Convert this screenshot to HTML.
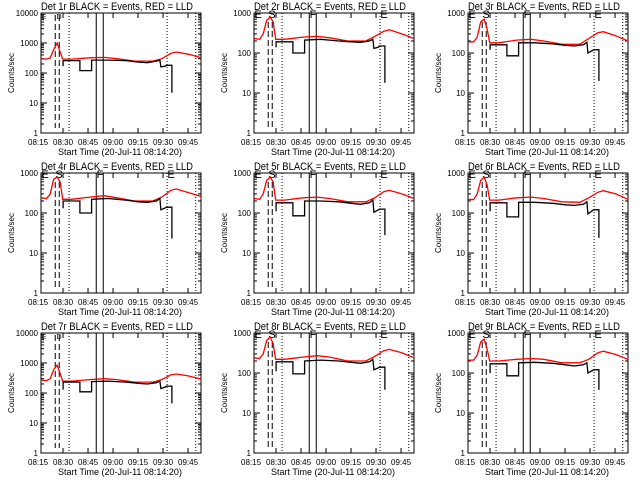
<!DOCTYPE html>
<html><head><meta charset="utf-8"><style>
html,body{margin:0;padding:0;background:#fff;}
svg{display:block;font-family:"Liberation Sans",sans-serif;}
</style></head><body>
<svg id="chart" width="640" height="480" viewBox="0 0 640 480"></svg>
<script>
// time in minutes after 08:14:20
const tickLabels = ["08:15","08:30","08:45","09:00","09:15","09:30","09:45"];
const tickMinutes = [0.67,15.67,30.67,45.67,60.67,75.67,90.67];
const titles = ["Det 1r","Det 2r","Det 3r","Det 4r","Det 5r","Det 6r","Det 7r","Det 8r","Det 9r"];
const yDecades = [4,3,3,3,3,3,4,3,3];
const dottedMin = [19.3,78.1,95.3];
const solidMin = [35.6,39.8];
const dashedMin = [11.0,13.4];
const redT = [2.6,5.8,8.0,10.1,12.1,13.9,15.5,20.9,31.7,40.4,47.9,58.7,69.5,74.9,80.3,83.6,91.1,98.7];
const red1 = [300,290,320,600,1000,500,290,290,320,330,300,250,250,300,450,500,420,320];
const red2 = [230,220,300,650,800,600,220,220,250,260,240,200,200,260,350,380,300,230];
const red3 = [190,190,250,600,700,400,180,180,210,220,200,165,165,230,320,340,270,200];
const red4 = [240,230,300,700,800,600,220,220,250,270,240,200,200,250,370,400,320,260];
const red5 = [230,220,300,650,800,600,210,210,240,250,230,190,190,240,340,370,300,230];
const red6 = [220,215,300,650,800,500,210,210,240,250,230,190,185,240,330,360,300,220];
const red7 = [270,260,300,600,850,450,250,250,280,300,280,230,230,280,400,430,370,290];
const red8 = [240,230,300,650,800,550,220,220,250,270,250,200,200,260,360,390,320,240];
const red9 = [210,210,280,600,700,400,200,200,220,230,220,180,180,220,320,350,290,220];
const blkT = [15.7,15.7,25.8,25.8,32.8,32.8,42.5,53.3,60.9,66.3,71.7,73.8,74.4,77.1,77.6,81.0,81.0];
const blk1 = [170,260,260,120,120,270,270,260,230,220,250,270,160,170,180,180,22];
const blk2 = [140,190,190,100,100,210,220,200,190,185,200,220,130,140,150,150,18];
const blk3 = [120,160,160,85,85,180,180,170,155,150,160,185,100,115,120,120,20];
const blk4 = [130,200,200,100,100,220,230,210,190,185,200,230,120,135,140,140,23];
const blk5 = [110,180,180,85,85,200,200,190,175,165,180,210,105,120,125,125,28];
const blk6 = [110,180,180,80,80,185,185,175,160,155,165,190,95,115,120,120,24];
const blk7 = [130,230,230,110,110,240,250,230,210,200,220,250,140,160,170,170,45];
const blk8 = [110,190,190,95,95,200,210,200,185,175,190,220,120,135,140,140,38];
const blk9 = [100,170,170,85,85,180,185,175,160,150,160,180,100,115,120,120,38];
const redSeries = [red1,red2,red3,red4,red5,red6,red7,red8,red9];
const blkSeries = [blk1,blk2,blk3,blk4,blk5,blk6,blk7,blk8,blk9];

const svg = document.getElementById('chart');
const NS = "http://www.w3.org/2000/svg";
function mk(tag, attrs, parent){const e=document.createElementNS(NS,tag);for(const k in attrs)e.setAttribute(k,attrs[k]);parent.appendChild(e);return e;}
const L=41,R=201,T=13,B=133;
function xs(m){return 36.9+m*1.667;}
const colX=[0,213,427], rowY=[0,160,320];
for(let p=0;p<9;p++){
  const g=mk('g',{transform:`translate(${colX[p%3]},${rowY[Math.floor(p/3)]})`},svg);
  
  
  const dec=yDecades[p];
  const ys=v=>B-Math.log10(v)/dec*(B-T);
  const cx=v=>Math.max(L,Math.min(R,xs(v)));
  const t=mk('text',{x:117,y:10,'font-size':11,'text-anchor':'middle',textLength:152,lengthAdjust:'spacingAndGlyphs'},g);
  t.textContent=titles[p]+" BLACK = Events, RED = LLD";
  
  
  const fr=mk('rect',{x:L,y:T,width:R-L,height:B-T,fill:'none',stroke:'#000','stroke-width':1},g);
  
  
  for(let d=0;d<=dec;d++){
    const y=ys(Math.pow(10,d));
    mk('line',{x1:L,x2:L+6,y1:y,y2:y,stroke:'#000'},g);
    mk('line',{x1:R-6,x2:R,y1:y,y2:y,stroke:'#000'},g);
    const lb=mk('text',{x:L-3,y:y+3,'font-size':8,'text-anchor':'end'},g);
    lb.textContent=String(Math.pow(10,d));
    
    
    if(d<dec){for(let k=2;k<10;k++){const yy=ys(k*Math.pow(10,d));
      mk('line',{x1:L,x2:L+3,y1:yy,y2:yy,stroke:'#000'},g);
      mk('line',{x1:R-3,x2:R,y1:yy,y2:yy,stroke:'#000'},g);}}
  }
  const yl=mk('text',{x:0,y:0,'font-size':8,'text-anchor':'middle',transform:'translate(14,73) rotate(-90)'},g);
  yl.textContent="Counts/sec";
  
  
  tickLabels.forEach((s,i)=>{
    const x=xs(tickMinutes[i]);
    if(x>=L&&x<=R){mk('line',{x1:x,x2:x,y1:B,y2:B-5,stroke:'#000'},g);mk('line',{x1:x,x2:x,y1:T,y2:T+5,stroke:'#000'},g);}
    const lb=mk('text',{x:x,y:145,'font-size':8,'text-anchor':'middle'},g);
    lb.textContent=s;
    
    
  });
  const xl=mk('text',{x:120,y:155,'font-size':9,'text-anchor':'middle'},g);
  xl.textContent="Start Time (20-Jul-11 08:14:20)";
  
  
  dottedMin.forEach(m=>{const l=mk('line',{x1:xs(m),x2:xs(m),y1:T,y2:B,stroke:'#000','stroke-dasharray':'1,2'},g);
    });
  solidMin.forEach(m=>{const l=mk('line',{x1:xs(m),x2:xs(m),y1:T,y2:B,stroke:'#000'},g);
    });
  dashedMin.forEach(m=>{const l=mk('line',{x1:xs(m),x2:xs(m),y1:dec===4?15:22,y2:128,stroke:'#000','stroke-dasharray':'6,3'},g);
    });
  const letters = dec===4?[["E",44,19,7],["D",59,19,7]]:[["E",45,18,11],["S",59,18,11],["F",100,18,11],["E",171,18,11]];
  letters.forEach(a=>{const tt=mk('text',{x:a[1],y:a[2],'font-size':a[3],'text-anchor':'middle'},g);tt.textContent=a[0];
    });
  const rp=redT.map((m,i)=>cx(m).toFixed(1)+','+ys(redSeries[p][i]).toFixed(1)).join(' ');
  const rl=mk('polyline',{points:rp,fill:'none',stroke:'#f00','stroke-width':1.3},g);
  
  const bp=blkT.map((m,i)=>cx(m).toFixed(1)+','+ys(blkSeries[p][i]).toFixed(1)).join(' ');
  const bl=mk('polyline',{points:bp,fill:'none',stroke:'#000','stroke-width':1.3},g);
  
}
</script>
</body></html>
